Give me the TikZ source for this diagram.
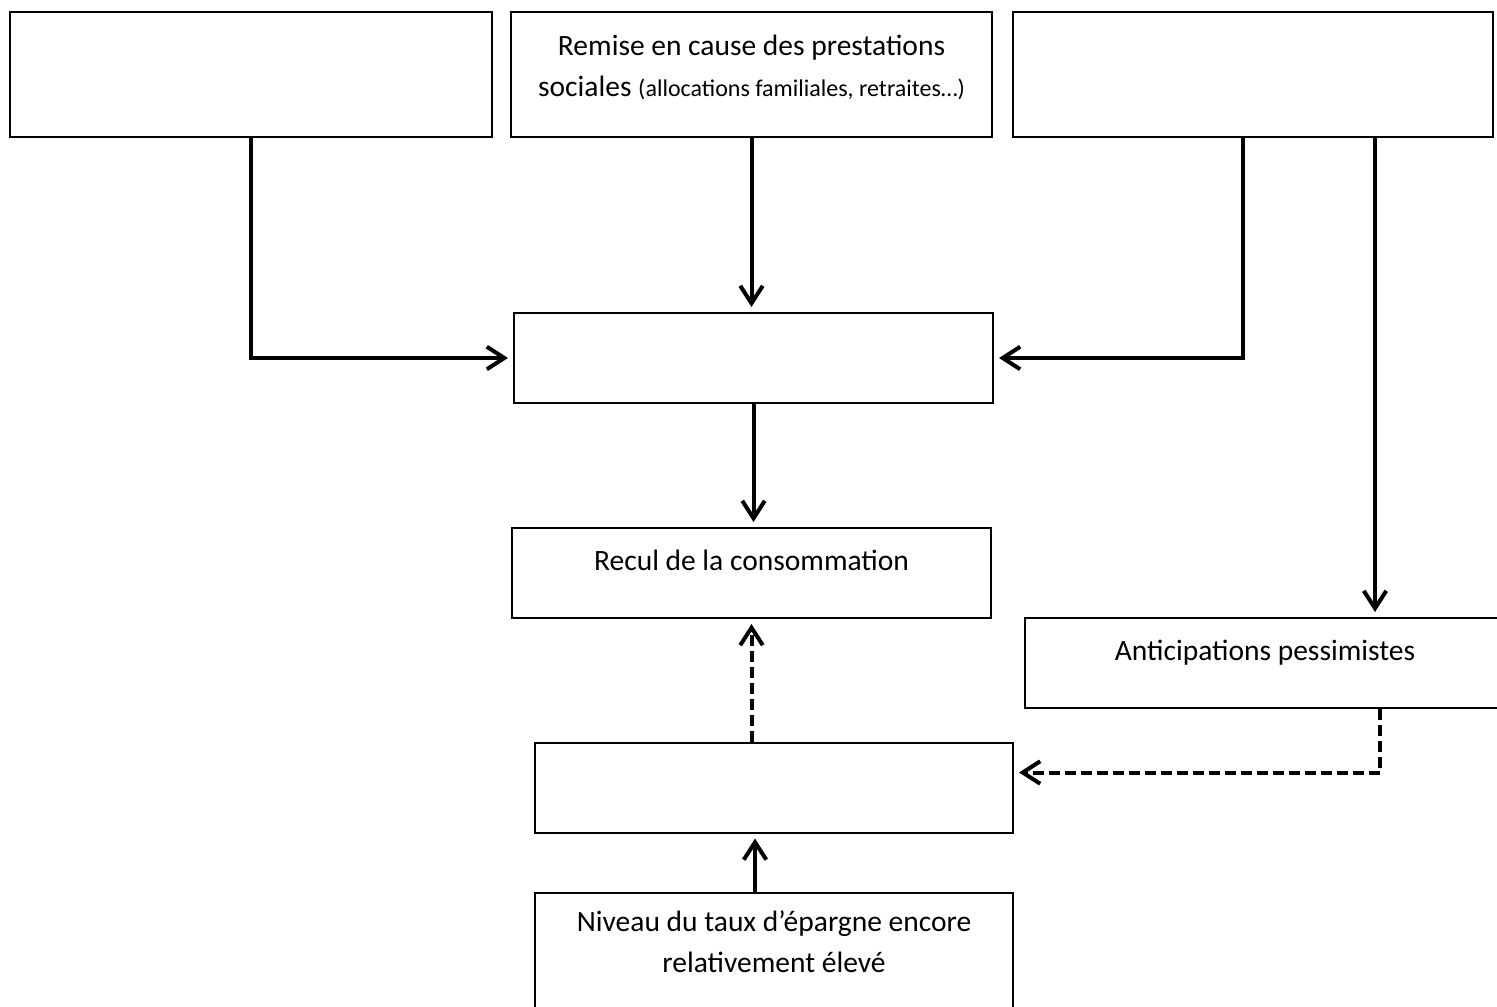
\documentclass[tikz,border=0pt]{standalone}
\usepackage{fontspec}
\setmainfont{Carlito}
\usetikzlibrary{arrows.meta}

\tikzset{
  box/.style={draw, line width=0.8pt, inner sep=0pt, align=center,
    minimum width=480*0.4pt, minimum height=90*0.4pt},
  link/.style={line width=1.6pt, -{Straight Barb[length=7pt,width=9pt]}, shorten >=2pt},
  dlink/.style={link, dash pattern=on 4.4pt off 2pt},
}

\begin{document}
\begin{tikzpicture}[x=0.4pt,y=-0.4pt,font=\fontsize{11.8}{16.4}\selectfont]
\useasboundingbox (0,0) rectangle (1497,1006);
\clip (0,0) rectangle (1497,1006);

% top row
\node[box, minimum width=482*0.4pt, minimum height=125*0.4pt] (gauche) at (251,74.5) {};
\node[box, minimum width=481*0.4pt, minimum height=125*0.4pt, text depth=6.9pt] (prest) at (751.5,74.5)
  {Remise en cause des prestations\\sociales {\fontsize{9.6}{12}\selectfont (allocations familiales, retraites\dots)}};
\node[box, minimum width=480*0.4pt, minimum height=125*0.4pt] (droite) at (1253,74.5) {};

% middle
\node[box, minimum width=479*0.4pt] (revenu) at (753.5,358) {};
\node[box, minimum width=479*0.4pt, text depth=10.5pt] (recul) at (751.5,573) {Recul de la consommation};
\node[box, text depth=10.5pt] (antic) at (1265,663) {Anticipations pessimistes};
\node[box, minimum width=478*0.4pt] (epargne) at (774,787.5) {};
\node[box, minimum width=478*0.4pt, minimum height=125*0.4pt, text depth=10.9pt] (niveau) at (774,955.5)
  {Niveau du taux d’épargne encore\\relativement élevé};

% arrows
\draw[link] (gauche.south) |- (revenu.west);
\draw[link] (prest.south) -- (prest.south |- revenu.north);
\draw[link] ([xshift=-4pt]droite.south) |- (revenu.east);
\draw[link] ([xshift=48.8pt]droite.south) -- ([xshift=48.8pt]droite.south |- antic.north);
\draw[link] (revenu.south) -- (revenu.south |- recul.north);
\draw[dlink] (epargne.north -| recul.south) -- (recul.south);
\draw[dlink] ([xshift=46pt]antic.south) |- ([yshift=6pt]epargne.east);
\draw[link] ([xshift=-7.6pt]niveau.north) -- ([xshift=-7.6pt]epargne.south);
\end{tikzpicture}
\end{document}
